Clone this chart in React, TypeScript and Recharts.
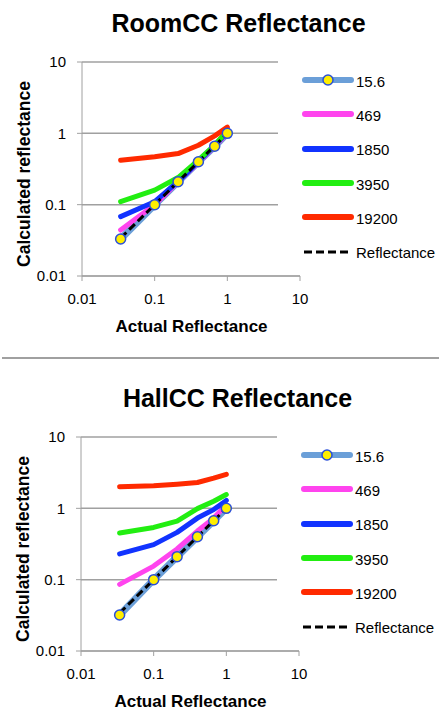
import { LineChart, Line, XAxis, YAxis, CartesianGrid } from 'recharts';

const FONT = '"Liberation Sans", Arial, sans-serif';
const GRAY = '#a0a0a0';

const ACTUAL = [0.034, 0.1, 0.21, 0.4, 0.67, 1.0];
const TICKS = [0.01, 0.1, 1, 10];

// RoomCC
const ROOM_15_6 = [0.033, 0.1, 0.21, 0.4, 0.66, 1.0];
const ROOM_469 = [0.044, 0.1, 0.21, 0.39, 0.66, 1.0];
const ROOM_1850 = [0.068, 0.11, 0.21, 0.4, 0.67, 1.05];
const ROOM_3950 = [0.11, 0.16, 0.24, 0.42, 0.68, 1.1];
const ROOM_19200 = [0.42, 0.47, 0.52, 0.68, 0.92, 1.22];

// HallCC
const HALL_15_6 = [0.032, 0.1, 0.21, 0.4, 0.67, 1.0];
const HALL_469 = [0.086, 0.155, 0.27, 0.48, 0.73, 1.12];
const HALL_1850 = [0.23, 0.31, 0.46, 0.73, 0.96, 1.29];
const HALL_3950 = [0.45, 0.54, 0.66, 0.99, 1.26, 1.56];
const HALL_19200 = [2.0, 2.08, 2.18, 2.3, 2.65, 3.0];

const SERIES = [
  { key: 's15', name: '15.6', color: '#6b9fd8', width: 7 },
  { key: 's469', name: '469', color: '#ff44ee', width: 5 },
  { key: 's1850', name: '1850', color: '#1133ff', width: 5 },
  { key: 's3950', name: '3950', color: '#22ee11', width: 5 },
  { key: 's19200', name: '19200', color: '#ff2a00', width: 5 },
];

const buildRows = (a: number[], b: number[], c: number[], d: number[], e: number[]) =>
  ACTUAL.map((x, i) => ({
    x,
    s15: a[i],
    s469: b[i],
    s1850: c[i],
    s3950: d[i],
    s19200: e[i],
    ref: x,
  }));

const ROOM_ROWS = buildRows(ROOM_15_6, ROOM_469, ROOM_1850, ROOM_3950, ROOM_19200);
const HALL_ROWS = buildRows(HALL_15_6, HALL_469, HALL_1850, HALL_3950, HALL_19200);

const Swatch = ({ idx }: { idx: number }) => {
  if (idx === SERIES.length) {
    return (
      <svg width={52} height={14}>
        <line x1={2} y1={7} x2={50} y2={7} stroke="#000" strokeWidth={3} strokeDasharray="8 4" />
      </svg>
    );
  }
  const s = SERIES[idx];
  return (
    <svg width={52} height={14}>
      <line x1={3} y1={7} x2={49} y2={7} stroke={s.color} strokeWidth={6} strokeLinecap="round" />
      {idx === 0 && <circle cx={26} cy={7} r={5} fill="#ffee00" stroke="#2a4fd8" strokeWidth={1.5} />}
    </svg>
  );
};

const Block = ({ title, rows, top, shift }: { title: string; rows: any[]; top: number; shift: number }) => {
  const names = [...SERIES.map((s) => s.name), 'Reflectance'];
  return (
    <div style={{ position: 'absolute', left: shift, top, width: 439, height: 334 }}>
      <div
        style={{
          position: 'absolute',
          left: 0,
          top: 10.5,
          width: 477,
          textAlign: 'center',
          fontFamily: FONT,
          fontWeight: 'bold',
          fontSize: 25,
          lineHeight: '25px',
        }}
      >
        {title}
      </div>
      <div style={{ position: 'absolute', left: 0, top: 0 }}>
        <LineChart width={439} height={320} data={rows} margin={{ top: 62, right: 139, left: 0, bottom: 0 }}>
          <CartesianGrid vertical={false} stroke={GRAY} strokeWidth={1.5} />
          <XAxis
            dataKey="x"
            type="number"
            scale="log"
            domain={[0.01, 10]}
            ticks={TICKS}
            interval={0}
            allowDataOverflow
            height={44}
            tickSize={5}
            tickMargin={12}
            stroke={GRAY}
            tick={{ fill: '#000', fontSize: 15, fontFamily: FONT }}
          />
          <YAxis
            type="number"
            scale="log"
            domain={[0.01, 10]}
            ticks={TICKS}
            interval={0}
            allowDataOverflow
            width={82}
            tickSize={5}
            tickMargin={11}
            stroke={GRAY}
            tick={{ fill: '#000', fontSize: 15, fontFamily: FONT }}
          />
          {SERIES.map((s, i) => (
            <Line
              key={s.key}
              dataKey={s.key}
              type="linear"
              stroke={s.color}
              strokeWidth={s.width}
              strokeLinecap="round"
              strokeLinejoin="round"
              dot={i === 0 ? { r: 5, fill: '#ffee00', stroke: '#2a4fd8', strokeWidth: 1.5 } : false}
              activeDot={false}
              isAnimationActive={false}
            />
          ))}
          <Line
            dataKey="ref"
            type="linear"
            stroke="#000"
            strokeWidth={3}
            strokeDasharray="8 4"
            dot={false}
            activeDot={false}
            isAnimationActive={false}
          />
        </LineChart>
      </div>
      <div
        style={{
          position: 'absolute',
          left: 25,
          top: 174,
          transform: 'translate(-50%, -50%) rotate(-90deg)',
          whiteSpace: 'nowrap',
          fontFamily: FONT,
          fontWeight: 'bold',
          fontSize: 17.5,
          lineHeight: '17.5px',
        }}
      >
        Calculated reflectance
      </div>
      <div
        style={{
          position: 'absolute',
          left: 0,
          top: 320,
          width: 383,
          textAlign: 'center',
          fontFamily: FONT,
          fontWeight: 'bold',
          fontSize: 17,
          lineHeight: '14px',
        }}
      >
        Actual Reflectance
      </div>
      <div style={{ position: 'absolute', left: 278, top: 55, width: 161, height: 215, background: '#fff' }}>
        {names.map((n, i) => {
          const cy = 80 + i * 34.3 - 55;
          return (
            <div key={n}>
              <div style={{ position: 'absolute', left: 24, top: cy - 7 }}>
                <Swatch idx={i} />
              </div>
              <div
                style={{
                  position: 'absolute',
                  left: 78,
                  top: cy - 7.3,
                  fontFamily: FONT,
                  fontSize: 15,
                  lineHeight: '18px',
                  whiteSpace: 'nowrap',
                }}
              >
                {n}
              </div>
            </div>
          );
        })}
      </div>
    </div>
  );
}

export default function App() {
  return (
    <div style={{ position: 'absolute', left: 0, top: 0, width: 439, height: 711, background: '#fff', overflow: 'hidden' }}>
      <Block title="RoomCC Reflectance" rows={ROOM_ROWS} top={0} shift={0} />
      <div style={{ position: 'absolute', left: 2, top: 357, width: 437, height: 2, background: GRAY }} />
      <Block title="HallCC Reflectance" rows={HALL_ROWS} top={375} shift={-1} />
    </div>
  );
}
